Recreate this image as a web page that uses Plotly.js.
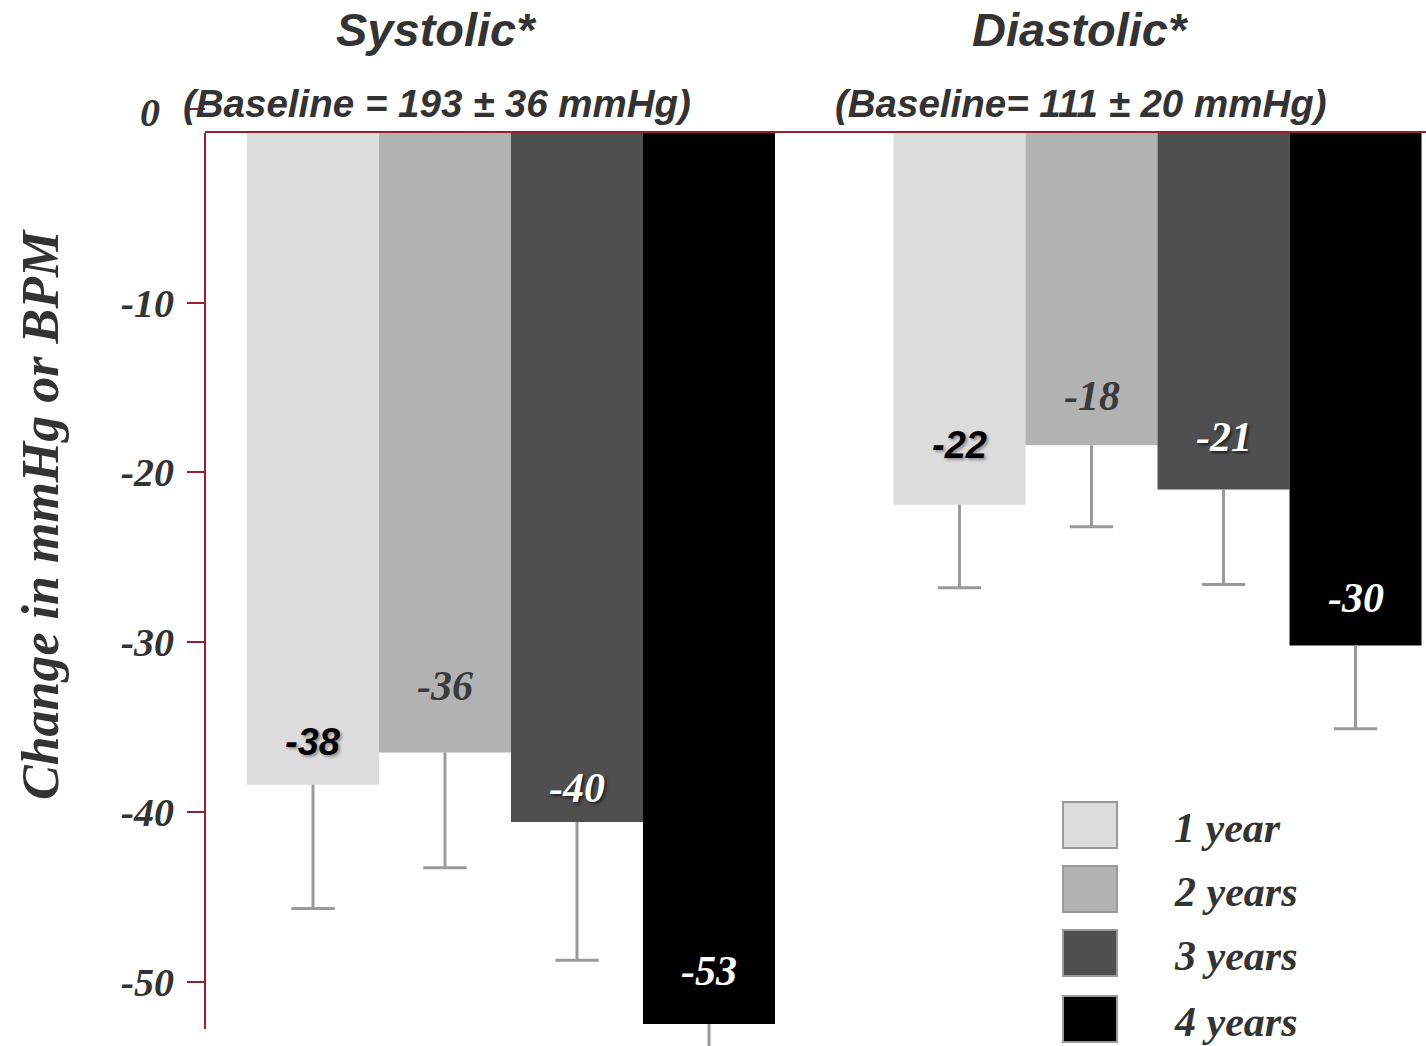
<!DOCTYPE html>
<html>
<head>
<meta charset="utf-8">
<script src="https://cdn.plot.ly/plotly-3.0.1.min.js"></script>
<style>html,body{margin:0;padding:0;background:#fff;}#chart{width:1426px;height:1046px;}</style>
</head>
<body>
<div id="chart"></div>
<script>
// ---- data ----
const groups = ["Systolic", "Diastolic"];
const groupTitles = ["Systolic*", "Diastolic*"];
const baselineTexts = ["(Baseline = 193 \u00B1 36 mmHg)", "(Baseline= 111 \u00B1 20 mmHg)"];
const seriesNames = ["1 year", "2 years", "3 years", "4 years"];
const systolicValues = [-38.4, -36.5, -40.6, -52.5];
const systolicErrors = [7.3, 6.8, 8.15, 7.5];
const diastolicValues = [-21.9, -18.4, -21.0, -30.2];
const diastolicErrors = [4.9, 4.8, 5.6, 4.9];
const systolicLabels = ["-38", "-36", "-40", "-53"];
const diastolicLabels = ["-22", "-18", "-21", "-30"];
const yTickVals = [-10, -20, -30, -40, -50];
const yTickText = ["-10", "-20", "-30", "-40", "-50"];
const yTitle = "Change in mmHg or BPM";

// ---- style ----
const colors = ["#dcdcdc", "#b2b2b2", "#4f4f4f", "#000000"];
const errColor = "#9a9a9a";
const axisRed = "#96202f";
const SERIF = "'Times New Roman', 'Liberation Serif', serif";
const SANS = "Arial, 'Liberation Sans', sans-serif";
const labelFonts = [
  {family: SANS, size: 38, color: "#000", weight: 700, style: "italic", shadow: "2px 2px 3px rgba(0,0,0,0.35)"},
  {family: SERIF, size: 42, color: "#3a3a3a", weight: 700, style: "italic"},
  {family: SERIF, size: 42, color: "#fff", weight: 700, style: "italic", shadow: "2px 2px 3px rgba(0,0,0,0.6)"},
  {family: SERIF, size: 42, color: "#fff", weight: 700, style: "italic"}
];
const labelLift = [[43, 66, 34, 53], [60, 49, 52, 48]];

const W = 1426, H = 1046;
const mL = 205, mR = 0, mT = 133, mB = 0;
const axisBottomPx = 1029;
const plotW = W - mL - mR, plotH = H - mT - mB;
const px2x = px => (px - mL) / plotW;
const px2y = py => (H - mB - py) / plotH;

const bargap = 0.1833;
const barW = (1 - bargap) / seriesNames.length;
const groupPos = groups.map((g, gi) => gi);
const offsetOf = i => (i - (seriesNames.length - 1) / 2) * barW;

const values = [systolicValues, diastolicValues];
const errors = [systolicErrors, diastolicErrors];
const labels = [systolicLabels, diastolicLabels];

const traces = seriesNames.map((name, i) => ({
  type: "bar",
  name: name,
  x: groupPos,
  y: groups.map((g, gi) => values[gi][i]),
  marker: {color: colors[i], line: {width: 0}},
  error_y: {
    type: "data", symmetric: false,
    array: groups.map(() => 0),
    arrayminus: groups.map((g, gi) => errors[gi][i]),
    color: errColor, thickness: 3, width: 0
  },
  cliponaxis: false,
  hoverinfo: "skip",
  showlegend: false
}));

// bottom caps of the (one-sided) error bars
seriesNames.forEach((name, i) => {
  traces.push({
    type: "scatter", mode: "markers",
    x: groupPos.map(p => p + offsetOf(i)),
    y: groups.map((g, gi) => values[gi][i] - errors[gi][i]),
    marker: {symbol: "line-ew-open", size: 31, color: errColor, line: {color: errColor, width: 3}},
    cliponaxis: false, hoverinfo: "skip", showlegend: false
  });
});

const annotations = [];
const shapes = [];

// bar value labels
groups.forEach((g, gi) => {
  seriesNames.forEach((n, i) => {
    annotations.push({
      xref: "x", yref: "y",
      x: groupPos[gi] + offsetOf(i),
      y: values[gi][i],
      xanchor: "center", yanchor: "middle",
      yshift: labelLift[gi][i],
      text: labels[gi][i],
      showarrow: false,
      font: labelFonts[i]
    });
  });
});

// group titles
const titleCenters = [436, 1080];
groups.forEach((g, gi) => {
  annotations.push({
    xref: "paper", yref: "paper", x: px2x(titleCenters[gi]), y: px2y(29),
    xanchor: "center", yanchor: "middle",
    text: groupTitles[gi], showarrow: false,
    font: {family: SANS, size: 47, color: "#333", weight: 700, style: "italic"}
  });
  annotations.push({
    xref: "paper", yref: "paper", x: px2x(titleCenters[gi] + 1), y: px2y(103),
    xanchor: "center", yanchor: "middle",
    text: baselineTexts[gi], showarrow: false,
    font: {family: SANS, size: 38.5, color: "#333", weight: 700, style: "italic"}
  });
});

// zero tick label & tick (offset as in the reference)
annotations.push({
  xref: "paper", yref: "paper", x: px2x(162), y: px2y(113),
  xanchor: "right", yanchor: "middle",
  text: "0", showarrow: false,
  font: {family: SERIF, size: 40, color: "#333", weight: 700, style: "italic"}
});
shapes.push({type: "line", xref: "paper", yref: "paper",
  x0: px2x(188), x1: 0, y0: px2y(109), y1: px2y(109),
  line: {color: axisRed, width: 2}});

// y axis line (ends above the bottom edge as in the reference)
shapes.push({type: "line", xref: "paper", yref: "paper",
  x0: 0, x1: 0, y0: px2y(axisBottomPx), y1: 1,
  line: {color: axisRed, width: 2}});

// y title
annotations.push({
  xref: "paper", yref: "paper", x: px2x(40), y: px2y(515),
  xanchor: "center", yanchor: "middle",
  text: yTitle, textangle: -90, showarrow: false,
  font: {family: SERIF, size: 52, color: "#333", weight: 700, style: "italic"}
});

// manual legend
const legendRows = [825, 889, 953, 1019];
seriesNames.forEach((n, i) => {
  shapes.push({type: "rect", xref: "paper", yref: "paper",
    x0: px2x(1063), x1: px2x(1117), y0: px2y(legendRows[i] + 23), y1: px2y(legendRows[i] - 23),
    fillcolor: colors[i], line: {color: errColor, width: 2}});
  annotations.push({
    xref: "paper", yref: "paper", x: px2x(1172), y: px2y(legendRows[i] + 3),
    xanchor: "left", yanchor: "middle",
    text: n, showarrow: false,
    font: {family: SERIF, size: 42, color: "#333", weight: 700, style: "italic"}
  });
});

const layout = {
  width: W, height: H,
  margin: {l: mL, r: mR, t: mT, b: mB, pad: 0},
  paper_bgcolor: "#fff", plot_bgcolor: "#fff",
  barmode: "group", bargap: bargap, bargroupgap: 0,
  showlegend: false,
  xaxis: {
    type: "linear", range: [-0.4733, 1.4153], side: "top",
    showline: true, linecolor: axisRed, linewidth: 2,
    showticklabels: false, ticks: "", showgrid: false, zeroline: false, fixedrange: true
  },
  yaxis: {
    range: [-53.8, 0], showline: false,
    tickvals: yTickVals, ticktext: yTickText,
    ticks: "outside", ticklen: 17, tickwidth: 2, tickcolor: axisRed,
    ticklabelstandoff: 5,
    tickfont: {family: SERIF, size: 40, color: "#333", weight: 700, style: "italic"},
    showgrid: false, zeroline: false, fixedrange: true
  },
  annotations: annotations,
  shapes: shapes
};

Plotly.newPlot("chart", traces, layout, {displayModeBar: false, staticPlot: true});
</script>
</body>
</html>
